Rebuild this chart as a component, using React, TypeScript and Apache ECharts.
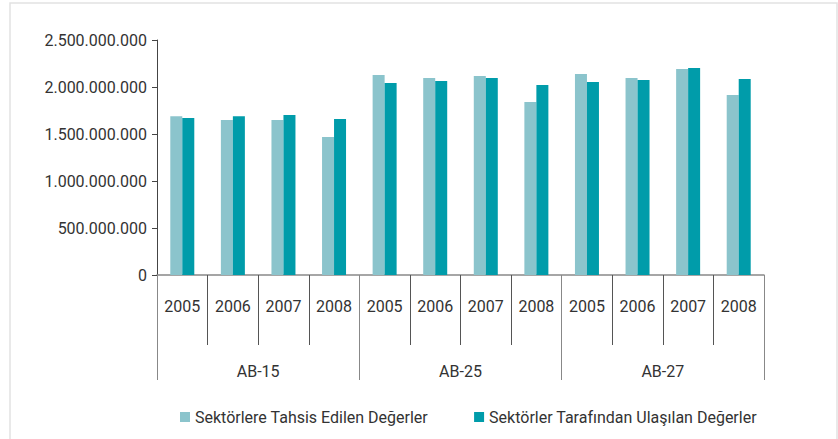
import React, { useEffect, useRef } from "react";
import * as echarts from "echarts";

const years = ["2005", "2006", "2007", "2008", "2005", "2006", "2007", "2008", "2005", "2006", "2007", "2008"];
const groups = ["AB-15", "AB-25", "AB-27"];
const allocated = [
  1690000000, 1650000000, 1650000000, 1468000000,
  2128000000, 2096000000, 2117000000, 1840000000,
  2138000000, 2096000000, 2191000000, 1915000000,
];
const achieved = [
  1670000000, 1690000000, 1702000000, 1660000000,
  2043000000, 2064000000, 2096000000, 2021000000,
  2053000000, 2074000000, 2202000000, 2085000000,
];
const seriesNames = ["Sektörlere Tahsis Edilen Değerler", "Sektörler Tarafından Ulaşılan Değerler"];

const fmt = (v: number) => String(Math.round(v)).replace(/\B(?=(\d{3})+(?!\d))/g, ".");

export default function App() {
  const ref = useRef<HTMLDivElement>(null);
  useEffect(() => {
    if (!ref.current) return;
    const chart = echarts.init(ref.current, undefined, { renderer: "svg" });
    const font = "Roboto, 'Liberation Sans', sans-serif";
    chart.setOption({
      animation: false,
      textStyle: { fontFamily: font },
      graphic: [
        {
          type: "rect",
          shape: { x: 10, y: 3, width: 827, height: 460 },
          style: { fill: "none", stroke: "#e2e2e2", lineWidth: 1.5 },
          silent: true,
          z: -1,
        },
      ],
      grid: { left: 157, right: 74, top: 40, bottom: 164 },
      legend: {
        left: 175,
        top: 404,
        itemWidth: 10,
        itemHeight: 10,
        itemGap: 46,
        icon: "rect",
        textStyle: { fontSize: 16, color: "#333", fontFamily: font },
        data: seriesNames,
      },
      xAxis: [
        {
          type: "category",
          data: years,
          position: "bottom",
          axisLine: { lineStyle: { color: "#888", width: 1.5 } },
          axisTick: { show: true, interval: 0, length: 70, lineStyle: { color: "#555" } },
          axisLabel: { interval: 0, margin: 23, fontSize: 16, color: "#333", fontFamily: font },
        },
        {
          type: "category",
          data: groups,
          position: "bottom",
          axisLine: { show: false },
          axisTick: { show: true, interval: 0, length: 105, lineStyle: { color: "#888" } },
          axisLabel: { interval: 0, margin: 88, fontSize: 16, color: "#333", fontFamily: font },
        },
      ],
      yAxis: {
        type: "value",
        min: 0,
        max: 2500000000,
        interval: 500000000,
        axisLine: { show: true, lineStyle: { color: "#444" } },
        axisTick: { show: true, length: 5, lineStyle: { color: "#444" } },
        splitLine: { show: false },
        axisLabel: { margin: 10, fontSize: 16, color: "#333", fontFamily: font, formatter: (v: number) => fmt(v) },
      },
      series: [
        {
          name: seriesNames[0],
          type: "bar",
          data: allocated,
          barWidth: 12,
          barGap: "0%",
          itemStyle: { color: "#8BC4CC" },
        },
        {
          name: seriesNames[1],
          type: "bar",
          data: achieved,
          barWidth: 12,
          barGap: "0%",
          itemStyle: { color: "#009CAA" },
        },
      ],
    });
    return () => chart.dispose();
  }, []);
  return <div ref={ref} style={{ position: "absolute", left: 0, top: 0, width: 838, height: 439 }} />;
}
